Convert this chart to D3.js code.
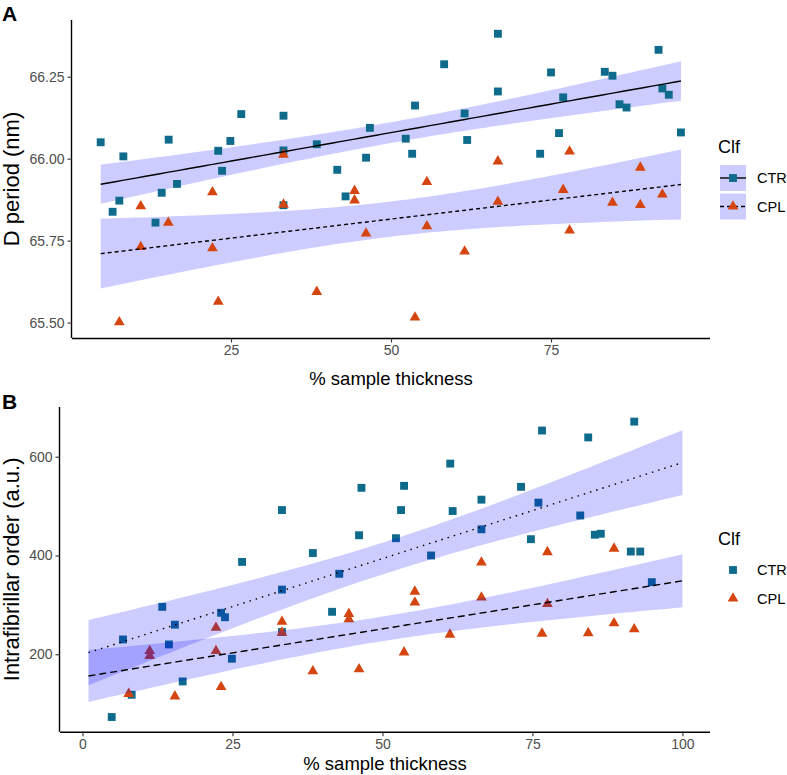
<!DOCTYPE html>
<html><head><meta charset="utf-8">
<script src="https://cdn.jsdelivr.net/npm/d3@7"></script>
<style>body{margin:0;background:#fff}svg{display:block;font-family:"Liberation Sans",Arial,sans-serif}</style>
</head><body><svg id="c" width="787" height="775"></svg>
<script>
// ---------- Panel A data: % sample thickness vs D period (nm) ----------
const aCtrX = [4.64,8.18,7.55,6.5,15.26,13.2,14.17,16.56,23.0,23.6,24.9,26.6,33.2,33.2,33.2,38.4,41.6,42.9,46.1,46.7,
  52.3,53.3,53.75,58.3,61.5,61.9,66.7,66.7,73.3,75.0,76.25,76.9,83.4,84.6,85.7,86.8,91.8,92.4,93.4,95.3];
const aCtrY = [66.050,66.007,65.872,65.838,66.058,65.805,65.896,65.923,66.024,65.963,66.054,66.136,66.131,66.025,65.858,66.044,65.966,65.885,66.003,66.094,
  66.061,66.015,66.162,66.288,66.138,66.057,66.381,66.205,66.015,66.263,66.078,66.187,66.265,66.253,66.166,66.156,66.332,66.214,66.195,66.080];
const aCplX = [7.55,10.9,10.9,15.2,22.1,22.1,23.0,33.2,33.2,38.4,44.3,44.3,46.1,
  53.75,55.6,55.6,61.5,66.7,66.7,76.9,77.9,77.9,84.6,88.95,88.95,92.4];
const aCplY = [65.501,65.855,65.731,65.805,65.898,65.727,65.564,66.012,65.860,65.594,65.902,65.873,65.772,
  65.516,65.929,65.794,65.717,65.992,65.869,65.905,66.022,65.781,65.866,65.973,65.859,65.891];
// ---------- Panel B data: % sample thickness vs Intrafibrillar order (a.u.) ----------
const bCtrX = [4.87,6.75,8.2,13.3,14.4,15.4,16.7,23.1,23.75,24.9,26.6,33.25,33.25,33.25,38.4,41.6,42.8,46.1,46.5,
  52.25,53.1,53.6,58.1,61.3,61.7,66.5,66.5,73.1,74.75,76.0,76.6,82.97,84.3,85.4,86.4,91.4,91.97,92.97,94.9];
const bCtrY = [73,230,118,296,220,260,145,284,275,191,387,492,331,245,405,286,363,441,537,
  435,492,541,400,586,490,513,453,539,433,507,653,481,639,442,444,408,671,408,346];
const bCplX = [7.7,11.2,11.2,15.4,22.25,22.25,23.1,33.25,33.25,38.4,44.4,44.4,46.1,
  53.6,55.4,55.4,61.25,66.5,66.5,76.6,77.5,77.5,84.3,88.6,88.6,91.97];
const bCplY = [120,207,197,115,254,207,134,266,244,166,282,271,170,
  204,327,305,240,315,386,242,407,302,243,414,263,251];

const groups = ["CTR","CPL"];
const xTicksA = [25,50,75], yTicksA = [65.50,65.75,66.00,66.25];
const xTicksB = [0,25,50,75,100], yTicksB = [200,400,600];

const colCTR = "#0f6b8b", colCPL = "#d4450f", band = "#0000ff", bandOp = 0.2;
const FONT = '"Liberation Sans",Arial,sans-serif';

// ---------- statistics helpers (lm + 95% CI like geom_smooth) ----------
function tq(df){ const z=1.959964; const z3=z*z*z,z5=z3*z*z,z7=z5*z*z;
  return z+(z3+z)/4/df+(5*z5+16*z3+3*z)/96/(df*df)+(3*z7+19*z5+17*z3-15*z)/384/(df*df*df); }
function fit(xs, ys){
  const n=xs.length, mx=d3.mean(xs), my=d3.mean(ys);
  let sxx=0,sxy=0; xs.forEach((x,i)=>{sxx+=(x-mx)**2; sxy+=(x-mx)*(ys[i]-my);});
  const b=sxy/sxx, a=my-b*mx;
  let rss=0; xs.forEach((x,i)=>{rss+=(ys[i]-a-b*x)**2;});
  const s=Math.sqrt(rss/(n-2)), t=tq(n-2);
  return x=>{ const yh=a+b*x, se=s*Math.sqrt(1/n+(x-mx)**2/sxx); return {x, y:yh, lo:yh-t*se, hi:yh+t*se}; };
}
function grid(x0,x1){ return d3.range(0,81).map(i=>x0+(x1-x0)*i/80); }

const svg = d3.select("#c");

function panel(o){
  const g = svg.append("g");
  const x = d3.scaleLinear().domain(o.xd).range([o.left,o.right]);
  const y = d3.scaleLinear().domain(o.yd).range([o.bottom,o.top]);
  const allX = o.ctrX.concat(o.cplX);
  const xr = o.fitRange || d3.extent(allX);
  const series = [
    {xs:o.ctrX, ys:o.ctrY, col:colCTR, shape:d3.symbolSquare, size:62, dash:o.dashCTR},
    {xs:o.cplX, ys:o.cplY, col:colCPL, shape:d3.symbolTriangle, size:50, dash:o.dashCPL}
  ];
  const area = d3.area().x(d=>x(d.x)).y0(d=>y(d.lo)).y1(d=>y(d.hi));
  const line = d3.line().x(d=>x(d.x)).y(d=>y(d.y));
  const bandsG = g.append("g"), ptsG = g.append("g"), linesG = g.append("g");
  series.forEach(s=>{
    const f = fit(s.xs, s.ys);
    const pts = grid(xr[0], xr[1]).map(f);
    bandsG.append("path").attr("d", area(pts)).attr("fill", band).attr("fill-opacity", bandOp);
    linesG.append("path").attr("d", line(pts)).attr("fill","none").attr("stroke","#000")
      .attr("stroke-width",1.4).attr("stroke-dasharray", s.dash);
    ptsG.selectAll(null).data(s.xs.map((v,i)=>[v,s.ys[i]])).join("path")
      .attr("transform", d=>`translate(${x(d[0])},${y(d[1])})`)
      .attr("d", d3.symbol(s.shape, s.size)).attr("fill", s.col);
  });
  if (o.bandsOnTop) bandsG.raise(); else ptsG.raise();
  linesG.raise();
  // axes
  const ax = g.append("g").attr("transform",`translate(0,${o.bottom})`)
    .call(d3.axisBottom(x).tickValues(o.xt).tickSize(4.5).tickPadding(3).tickFormat(d3.format("d")));
  const ay = g.append("g").attr("transform",`translate(${o.left},0)`)
    .call(d3.axisLeft(y).tickValues(o.yt).tickSize(4.5).tickPadding(3).tickFormat(d3.format(o.yfmt)));
  [ax,ay].forEach(a=>{
    a.select(".domain").attr("stroke","#000").attr("stroke-width",1.4)
      .attr("d", a===ax ? `M${o.left},0.5H${o.right}` : `M-0.5,${o.bottom}V${o.top}`);
    a.selectAll(".tick line").attr("stroke","#333").attr("stroke-width",1.1);
    a.selectAll(".tick text").attr("fill","#4d4d4d").style("font-size","14px").style("font-family",FONT);
  });
  g.append("text").attr("x",(o.left+o.right)/2).attr("y",o.xtY).attr("text-anchor","middle")
    .style("font-size","18.5px").text("% sample thickness");
  g.append("text").attr("transform",`translate(${o.ytX},${(o.top+o.bottom)/2}) rotate(-90)`)
    .attr("text-anchor","middle").style("font-size","22px").text(o.ytitle);
  g.append("text").attr("x",2).attr("y",o.tagY).style("font-size","21px").style("font-weight","bold").text(o.tag);
  // legend
  const lg = g.append("g");
  lg.append("text").attr("x",718).attr("y",o.legY).style("font-size","18px").text("Clf");
  groups.forEach((name,i)=>{
    const s = series[i], ky = o.legY+12+i*28.5;
    if (o.legendBands){
      lg.append("rect").attr("x",720).attr("y",ky).attr("width",26).attr("height",26)
        .attr("fill",band).attr("fill-opacity",bandOp);
      lg.append("line").attr("x1",720).attr("x2",746).attr("y1",ky+13).attr("y2",ky+13)
        .attr("stroke","#000").attr("stroke-width",1.4).attr("stroke-dasharray",s.dash);
    }
    lg.append("path").attr("transform",`translate(733,${ky+13})`).attr("d",d3.symbol(s.shape,s.size)).attr("fill",s.col);
    lg.append("text").attr("x",757).attr("y",ky+13).attr("dy","0.36em").style("font-size","14.5px").text(name);
  });
}

panel({ctrX:aCtrX,ctrY:aCtrY,cplX:aCplX,cplY:aCplY,
  left:72,right:710,top:20,bottom:338, xd:[0.156,99.84], yd:[65.453,66.423],
  xt:xTicksA, yt:yTicksA, yfmt:".2f", dashCTR:null, dashCPL:"4,3",
  bandsOnTop:false, legendBands:true, legY:153, xtY:385, ytX:18.5,
  ytitle:"D period (nm)", tag:"A", tagY:21});

panel({ctrX:bCtrX,ctrY:bCtrY,cplX:bCplX,cplY:bCplY,
  left:60,right:710,top:407,bottom:731.7, xd:[-3.75,104.6], yd:[43.3,700.6],
  xt:xTicksB, yt:yTicksB, yfmt:"d", dashCTR:"1.5,5", dashCPL:"7,4",
  fitRange:[1,100],
  bandsOnTop:true, legendBands:false, legY:545, xtY:770, ytX:18.5,
  ytitle:"Intrafibrillar order (a.u.)", tag:"B", tagY:409});
</script></body></html>
